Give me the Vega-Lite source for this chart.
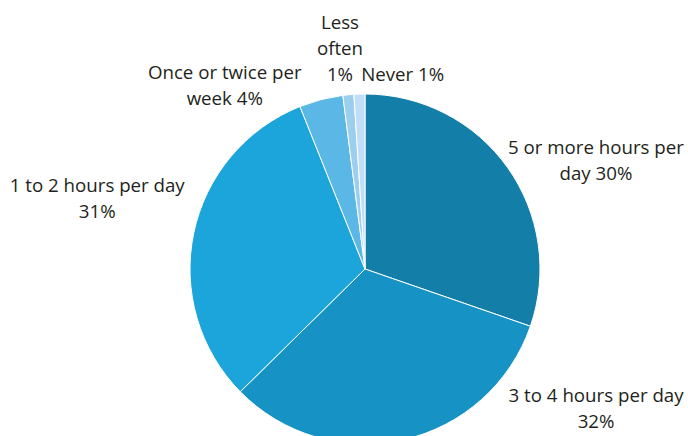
{
  "$schema": "https://vega.github.io/schema/vega-lite/v6.json",
  "width": 688,
  "height": 436,
  "padding": 0,
  "autosize": {"type": "none"},
  "background": "white",
  "data": {
    "values": [
      {"i": 1, "category": "5 or more hours per day", "value": 30, "label": "5 or more hours per\nday 30%"},
      {"i": 2, "category": "3 to 4 hours per day", "value": 32, "label": "3 to 4 hours per day\n32%"},
      {"i": 3, "category": "1 to 2 hours per day", "value": 31, "label": "1 to 2 hours per day\n31%"},
      {"i": 4, "category": "Once or twice per week", "value": 4, "label": "Once or twice per\nweek 4%"},
      {"i": 5, "category": "Less often", "value": 1, "label": "Less\noften\n1%"},
      {"i": 6, "category": "Never", "value": 1, "label": "Never 1%"}
    ]
  },
  "encoding": {
    "theta": {"field": "value", "type": "quantitative", "stack": true},
    "order": {"field": "i", "type": "quantitative"},
    "x": {"value": 365},
    "y": {"value": 269}
  },
  "layer": [
    {
      "mark": {"type": "arc", "outerRadius": 175, "stroke": "white", "strokeWidth": 1},
      "encoding": {
        "color": {
          "field": "category",
          "type": "nominal",
          "legend": null,
          "scale": {
            "domain": ["5 or more hours per day", "3 to 4 hours per day", "1 to 2 hours per day", "Once or twice per week", "Less often", "Never"],
            "range": ["#137fa8", "#1692c5", "#1ba5da", "#5bb7e5", "#9ccfee", "#c0def5"]
          }
        }
      }
    },
    {
      "mark": {"type": "text", "radius": 200, "dx": 68, "dy": 1, "align": "center", "baseline": "alphabetic", "lineBreak": "\n", "font": "Open Sans", "fontSize": 18.7, "lineHeight": 26, "color": "#231f20"},
      "encoding": {"text": {"condition": {"test": "datum.i === 1", "field": "label"}, "value": ""}}
    },
    {
      "mark": {"type": "text", "radius": 200, "dx": 187, "dy": -62, "align": "center", "baseline": "alphabetic", "lineBreak": "\n", "font": "Open Sans", "fontSize": 18.7, "lineHeight": 26, "color": "#231f20"},
      "encoding": {"text": {"condition": {"test": "datum.i === 2", "field": "label"}, "value": ""}}
    },
    {
      "mark": {"type": "text", "radius": 200, "dx": -72, "dy": -36, "align": "center", "baseline": "alphabetic", "lineBreak": "\n", "font": "Open Sans", "fontSize": 18.7, "lineHeight": 26, "color": "#231f20"},
      "encoding": {"text": {"condition": {"test": "datum.i === 3", "field": "label"}, "value": ""}}
    },
    {
      "mark": {"type": "text", "radius": 200, "dx": -90, "dy": 4, "align": "center", "baseline": "alphabetic", "lineBreak": "\n", "font": "Open Sans", "fontSize": 18.7, "lineHeight": 26, "color": "#231f20"},
      "encoding": {"text": {"condition": {"test": "datum.i === 4", "field": "label"}, "value": ""}}
    },
    {
      "mark": {"type": "text", "radius": 200, "dx": -6, "dy": -41, "align": "center", "baseline": "alphabetic", "lineBreak": "\n", "font": "Open Sans", "fontSize": 18.7, "lineHeight": 26, "color": "#231f20"},
      "encoding": {"text": {"condition": {"test": "datum.i === 5", "field": "label"}, "value": ""}}
    },
    {
      "mark": {"type": "text", "radius": 200, "dx": 44, "dy": 12, "align": "center", "baseline": "alphabetic", "lineBreak": "\n", "font": "Open Sans", "fontSize": 18.7, "lineHeight": 26, "color": "#231f20"},
      "encoding": {"text": {"condition": {"test": "datum.i === 6", "field": "label"}, "value": ""}}
    }
  ],
  "config": {"view": {"stroke": null}}
}
